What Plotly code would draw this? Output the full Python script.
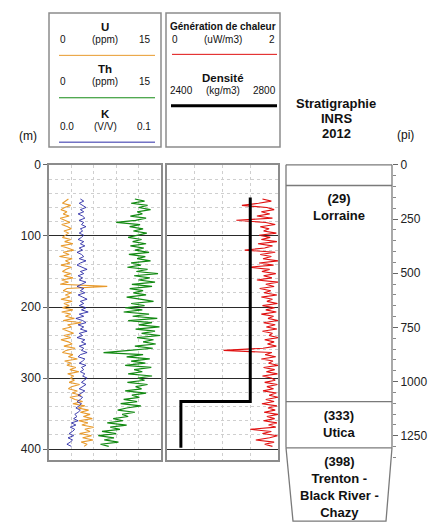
import plotly.graph_objects as go

# ---------------- data ----------------
depth_m = [48, 51, 54, 57, 60, 63, 66, 69, 72, 75, 78, 81, 84, 87, 90, 93, 96, 99,
           102, 105, 108, 111, 114, 117, 120, 123, 126, 129, 132, 135, 138, 141, 144, 147, 150,
           153, 156, 159, 162, 165, 168, 171, 174, 177, 180, 183, 186, 189, 192, 195, 198, 201,
           204, 207, 210, 213, 216, 219, 222, 225, 228, 231, 234, 237, 240, 243, 246, 249,
           252, 255, 258, 261, 264, 267, 270, 273, 276, 279, 282, 285, 288, 291, 294, 297, 300,
           303, 306, 309, 312, 315, 318, 321, 324, 327, 330, 333, 336, 339, 342, 345, 348, 351,
           354, 357, 360, 363, 366, 369, 372, 375, 378, 381, 384, 387, 390, 393, 396]

u_ppm = [2.6, 2.2, 1.8, 2.9, 2.1, 1.6, 2.4, 1.9, 2.7, 1.5, 2.3, 2.8, 1.7, 2.5, 3.0, 2.0, 2.6, 2.2,
         1.8, 2.9, 2.1, 3.2, 1.6, 2.5, 3.3, 1.9, 2.7, 1.4, 3.1, 2.2, 2.8, 1.6, 3.0, 2.3, 1.8,
         2.9, 2.0, 3.2, 1.7, 2.6, 1.5, 7.8, 2.4, 1.9, 3.0, 2.2, 2.8, 1.6, 3.1, 2.0, 2.7, 1.8,
         3.2, 1.7, 2.9, 2.2, 3.4, 1.9, 4.3, 2.5, 3.0, 1.8, 2.7, 3.3, 2.0, 2.9, 1.6, 2.6,
         3.1, 2.0, 3.5, 2.3, 1.8, 3.2, 2.6, 3.8, 2.1, 3.0, 2.4, 3.6, 2.8, 4.0, 2.5, 3.3, 2.9,
         3.4, 2.7, 4.1, 3.0, 2.6, 3.8, 3.1, 4.3, 2.8, 3.5, 4.5, 3.2, 4.8, 3.9, 5.3, 4.2, 5.5,
         4.6, 5.8, 4.0, 5.2, 4.4, 6.0, 4.8, 5.5, 4.1, 5.7, 4.5, 5.9, 4.3, 5.1, 4.7]

k_vv = [0.028, 0.031, 0.027, 0.030, 0.033, 0.028, 0.031, 0.026, 0.030, 0.032, 0.027, 0.031, 0.029, 0.033, 0.028, 0.030, 0.027, 0.031,
        0.029, 0.026, 0.031, 0.028, 0.032, 0.027, 0.030, 0.025, 0.029, 0.031, 0.027, 0.033, 0.028, 0.025, 0.030, 0.034, 0.028,
        0.031, 0.026, 0.030, 0.027, 0.033, 0.029, 0.025, 0.031, 0.028, 0.032, 0.026, 0.030, 0.034, 0.028, 0.031, 0.027, 0.033,
        0.029, 0.035, 0.027, 0.031, 0.024, 0.030, 0.033, 0.026, 0.031, 0.028, 0.034, 0.027, 0.030, 0.025, 0.032, 0.029,
        0.033, 0.027, 0.031, 0.029, 0.034, 0.028, 0.026, 0.032, 0.030, 0.027, 0.033, 0.029, 0.031, 0.028, 0.032, 0.030, 0.034,
        0.031, 0.029, 0.033, 0.030, 0.027, 0.032, 0.029, 0.026, 0.030, 0.028, 0.025, 0.029, 0.027, 0.024, 0.028, 0.026, 0.023,
        0.025, 0.022, 0.026, 0.020, 0.024, 0.019, 0.023, 0.021, 0.018, 0.022, 0.017, 0.021, 0.019, 0.016, 0.020]

th_ppm = [11.5, 12.8, 11.0, 13.2, 12.0, 13.6, 11.8, 12.5, 10.9, 13.0, 11.6, 9.0, 12.2, 10.8, 12.6, 11.3, 13.1, 11.9,
          10.6, 12.4, 11.2, 13.0, 10.9, 12.7, 11.5, 13.4, 10.7, 12.9, 11.8, 13.6, 11.0, 12.3, 10.5, 13.2, 11.7,
          14.6, 11.4, 13.5, 12.0, 14.2, 11.1, 13.8, 10.8, 12.6, 11.3, 13.0, 10.4, 12.2, 14.0, 11.0, 12.8, 10.2,
          12.5, 10.0, 13.4, 11.2, 14.5, 10.6, 13.8, 12.0, 14.8, 11.6, 14.2, 12.4, 14.9, 11.8, 14.0, 12.6,
          14.3, 11.5, 13.9, 10.8, 7.3, 12.6, 10.4, 13.5, 11.0, 12.9, 10.2, 13.7, 11.4, 12.5, 10.6, 13.8, 11.9,
          12.8, 10.5, 13.2, 11.6, 12.4, 10.2, 13.0, 11.1, 12.1, 10.0, 11.8, 9.6, 12.3, 10.4, 9.2, 11.5, 9.8,
          10.6, 8.6, 9.9, 7.8, 10.4, 8.2, 9.5, 7.1, 9.0, 6.6, 8.7, 7.4, 9.3, 6.9, 8.0]

heat_uwm3 = [1.72, 1.88, 1.65, 1.35, 1.80, 1.93, 1.70, 1.85, 1.62, 1.90, 1.25, 1.78, 1.95, 1.68, 1.84, 1.74, 1.97, 1.66,
             1.86, 1.70, 1.98, 1.64, 1.90, 1.76, 1.40, 1.95, 1.68, 1.88, 1.73, 2.00, 1.66, 1.92, 1.48, 1.85, 1.71,
             1.96, 1.74, 1.89, 1.62, 2.00, 1.78, 1.93, 1.67, 1.87, 1.75, 1.98, 1.70, 1.90, 1.80, 1.99, 1.72, 1.94,
             1.78, 1.97, 1.70, 1.92, 1.82, 2.00, 1.74, 1.95, 1.79, 1.98, 1.72, 1.90, 1.84, 2.00, 1.76, 1.93,
             1.81, 1.97, 1.73, 1.02, 1.89, 1.77, 1.96, 1.70, 1.91, 1.83, 2.00, 1.74, 1.94, 1.79, 1.99, 1.72, 1.88,
             1.95, 1.76, 1.99, 1.80, 1.92, 1.73, 1.97, 1.84, 2.00, 1.78, 1.93, 1.71, 1.98, 1.82, 1.95, 1.75, 2.00,
             1.80, 1.94, 1.74, 1.98, 1.83, 1.96, 1.50, 1.88, 1.72, 1.99, 1.85, 1.60, 1.93, 1.76, 1.90]

density_depth = [46, 333, 333, 398]
density_kgm3 = [2700, 2700, 2450, 2450]

strat_tops = [29, 333, 398]
strat_names = ["Lorraine", "Utica", "Trenton -<br>Black River -<br>Chazy"]

depth_ticks = [0, 100, 200, 300, 400]
feet_per_m = 3.28084

# ---------------- layout helpers ----------------
W, H = 430, 524
FONT = "Liberation Sans, Arial, sans-serif"
def px(x):
    return x / W
def py(y):
    return 1 - y / H

DEPTH_MAX = 415
TOP_PX, BOT_PX = 160, 459
dom = [py(BOT_PX), py(TOP_PX)]
def depth_to_paper(d):
    return dom[1] - d / DEPTH_MAX * (dom[1] - dom[0])

C_U = "#E89A2C"
C_TH = "#138A13"
C_K = "#2B2BA6"
C_HEAT = "#E01010"
C_DENS = "#000000"
BORDER = "#8c8c8c"
GRID = "#cfcfcf"

fig = go.Figure()
fig.add_trace(go.Scatter(x=u_ppm, y=depth_m, mode="lines", line=dict(color=C_U, width=1.1),
                         xaxis="x", yaxis="y", name="U"))
fig.add_trace(go.Scatter(x=k_vv, y=depth_m, mode="lines", line=dict(color=C_K, width=0.9),
                         xaxis="x3", yaxis="y", name="K"))
fig.add_trace(go.Scatter(x=th_ppm, y=depth_m, mode="lines", line=dict(color=C_TH, width=1.2),
                         xaxis="x2", yaxis="y", name="Th"))
fig.add_trace(go.Scatter(x=heat_uwm3, y=depth_m, mode="lines", line=dict(color=C_HEAT, width=1.1),
                         xaxis="x4", yaxis="y2", name="Génération de chaleur"))
fig.add_trace(go.Scatter(x=density_kgm3, y=density_depth, mode="lines", line=dict(color=C_DENS, width=3),
                         xaxis="x5", yaxis="y2", name="Densité"))
# feet axis carrier
fig.add_trace(go.Scatter(x=[None], y=[None], xaxis="x", yaxis="y3", showlegend=False, hoverinfo="skip"))

track_x = dict(showticklabels=False, ticks="", showgrid=True, gridcolor=GRID, griddash="dot",
               gridwidth=1, showline=True, linecolor=BORDER, linewidth=1.5, mirror=True,
               zeroline=False, fixedrange=True)
track_y = dict(domain=dom, range=[DEPTH_MAX, 0], tickmode="array", tickvals=depth_ticks,
               showgrid=True, gridcolor="#2a2a2a", gridwidth=1,
               minor=dict(dtick=20, tick0=0, showgrid=True, gridcolor=GRID, griddash="dot"),
               showline=True, linecolor=BORDER, linewidth=1.5, mirror=True, zeroline=False)

fig.update_layout(
    width=W, height=H, autosize=False,
    margin=dict(l=0, r=0, t=0, b=0),
    paper_bgcolor="white", plot_bgcolor="white",
    showlegend=False,
    font=dict(family=FONT, color="#111"),
    xaxis=dict(domain=[px(49), px(161)], range=[0, 15], dtick=3, anchor="y", **track_x),
    xaxis2=dict(overlaying="x", range=[0, 15], visible=False),
    xaxis3=dict(overlaying="x", range=[0, 0.1], visible=False),
    xaxis4=dict(domain=[px(167), px(278)], range=[0, 2], dtick=0.5, anchor="y2", **track_x),
    xaxis5=dict(overlaying="x4", range=[2400, 2800], visible=False),
    yaxis=dict(anchor="x", ticks="outside", ticklen=4, tickcolor="#666",
               tickfont=dict(size=12, color="#222"), **track_y),
    yaxis2=dict(anchor="x4", matches="y", showticklabels=False, ticks="", **track_y),
    yaxis3=dict(overlaying="y", anchor="free", position=px(392), side="right",
                range=[DEPTH_MAX * feet_per_m, 0], tickmode="linear", tick0=0, dtick=250,
                ticks="outside", ticklen=5, tickcolor="#666",
                minor=dict(dtick=50, ticks="outside", ticklen=3, tickcolor="#888"),
                showgrid=False, showline=False, zeroline=False,
                tickfont=dict(size=12, color="#222")),
)

shapes = []
annots = []

def line_shape(x0, y0, x1, y1, color, width):
    shapes.append(dict(type="line", xref="paper", yref="paper", x0=x0, y0=y0, x1=x1, y1=y1,
                       line=dict(color=color, width=width)))

def text(x, y, s, size, bold=False, xanchor="center"):
    annots.append(dict(x=x, y=y, xref="paper", yref="paper", text=(f"<b>{s}</b>" if bold else s),
                       showarrow=False, xanchor=xanchor, yanchor="middle",
                       font=dict(size=size, family=FONT, color="#111")))

# ---- header boxes ----
for (x0, x1) in [(49, 161), (166, 280)]:
    shapes.append(dict(type="rect", xref="paper", yref="paper", x0=px(x0), x1=px(x1),
                       y0=py(142), y1=py(6), line=dict(color=BORDER, width=1.5)))

legend1 = [("U", "0", "(ppm)", "15", C_U, 20),
           ("Th", "0", "(ppm)", "15", C_TH, 63),
           ("K", "0.0", "(V/V)", "0.1", C_K, 108)]
for name, lo, unit, hi, col, yt in legend1:
    text(px(105), py(yt), name, 11.5, bold=True)
    text(px(105), py(yt + 13), unit, 10)
    text(px(58), py(yt + 13), lo, 10, xanchor="left")
    text(px(153), py(yt + 13), hi, 10, xanchor="right")
    line_shape(px(59), py(yt + 29), px(155), py(yt + 29), col, 1)

text(px(223), py(20), "Génération de chaleur", 10, bold=True)
text(px(223), py(33), "(uW/m3)", 10)
text(px(170), py(33), "0", 10, xanchor="left")
text(px(277), py(33), "2", 10, xanchor="right")
line_shape(px(172), py(48), px(277), py(48), C_HEAT, 1)
text(px(223), py(72), "Densité", 11.5, bold=True)
text(px(223), py(85), "(kg/m3)", 10)
text(px(168), py(85), "2400", 10, xanchor="left")
text(px(278), py(85), "2800", 10, xanchor="right")
line_shape(px(171), py(100), px(277), py(100), C_DENS, 3)

text(px(28), py(131), "(m)", 12)
text(px(405), py(130), "(pi)", 12)
text(px(336), py(98), "Stratigraphie", 13, bold=True)
text(px(336), py(113), "INRS", 13, bold=True)
text(px(336), py(128), "2012", 13, bold=True)

# ---- stratigraphic column ----
SX0, SX1 = px(286), px(392)
SC = "#7a7a7a"
last = strat_tops[-1]
line_shape(SX0, depth_to_paper(0), SX0, depth_to_paper(last), SC, 1.3)
line_shape(SX1, depth_to_paper(0), SX1, depth_to_paper(last), SC, 1.3)
line_shape(SX0, depth_to_paper(0), SX1, depth_to_paper(0), SC, 1.3)
for t in strat_tops:
    line_shape(SX0, depth_to_paper(t), SX1, depth_to_paper(t), SC, 1.3)
yb = py(521)
ylast = depth_to_paper(last)
shapes.append(dict(type="path", xref="paper", yref="paper",
                   path=f"M {SX0},{ylast} L {px(293)},{yb} L {px(386)},{yb} L {SX1},{ylast}",
                   line=dict(color=SC, width=1.3)))

for t, name in zip(strat_tops, strat_names):
    annots.append(dict(x=px(339), y=depth_to_paper(t), xref="paper", yref="paper",
                       text=f"<b>({t})<br>{name}</b>", showarrow=False,
                       xanchor="center", yanchor="top", yshift=-4, align="center",
                       font=dict(size=13, family=FONT, color="#111")))

fig.update_layout(shapes=shapes, annotations=annots)
fig.write_html("out.html", config={"displayModeBar": False},
               post_script="document.body.style.margin='0';document.body.style.overflow='hidden';")
